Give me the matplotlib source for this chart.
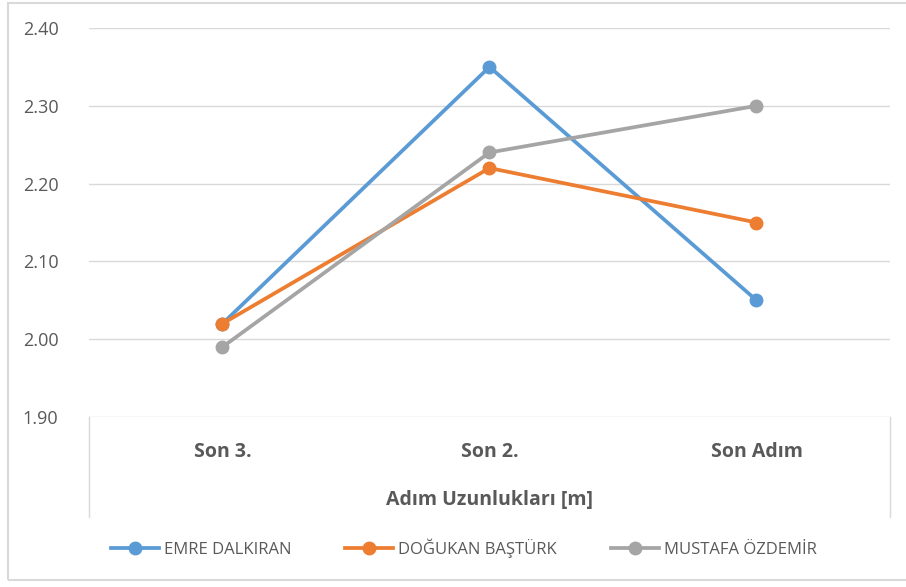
import matplotlib.pyplot as plt
from matplotlib.lines import Line2D
from matplotlib.patches import Rectangle

plt.rcParams['font.family'] = ['Open Sans', 'DejaVu Sans']

categories = ['Son 3.', 'Son 2.', 'Son Adım']
series_names = ['EMRE DALKIRAN', 'DOĞUKAN BAŞTÜRK', 'MUSTAFA ÖZDEMİR']
emre = [2.02, 2.35, 2.05]
dogukan = [2.02, 2.22, 2.15]
mustafa = [1.99, 2.24, 2.30]
yticks = [1.90, 2.00, 2.10, 2.20, 2.30, 2.40]

colors = ['#5B9BD5', '#ED7D31', '#A5A5A5']
text_gray = '#595959'
grid_gray = '#D9D9D9'

W, H = 906, 587
fig = plt.figure(figsize=(W / 100, H / 100), dpi=100)
fig.patch.set_facecolor('white')

# chart border (right side is cut off in the reference)
fig.patches.append(Rectangle((8 / W, 1 - 580 / H), 1.0, (580 - 3) / H,
                             transform=fig.transFigure, fill=False,
                             edgecolor=grid_gray, linewidth=1.5))

ax = fig.add_axes([89 / W, 1 - 417 / H, (890 - 89) / W, (417 - 28) / H])
x = range(len(categories))
for vals, name, col in zip([emre, dogukan, mustafa], series_names, colors):
  ax.plot(x, vals, color=col, linewidth=2.7, marker='o', markersize=9,
          label=name, zorder=3, solid_capstyle='round')

ax.set_xlim(-0.5, len(categories) - 0.5)
ax.set_ylim(1.90, 2.40)
ax.set_yticks(yticks)
ax.set_yticklabels([f'{v:.2f}' for v in yticks])
ax.tick_params(axis='y', length=0, pad=22, labelsize=13, labelcolor=text_gray)
ax.set_xticks([])
ax.grid(axis='y', color=grid_gray, linewidth=1)
for s in ax.spines.values():
  s.set_visible(False)

# category labels and axis title
for i, c in enumerate(categories):
  ax.annotate(c, (i, 1.90), xycoords='data', xytext=(0, -35),
              textcoords='offset pixels', ha='center', va='center',
              fontsize=14, fontweight='bold', color=text_gray)
fig.text((89 + 890) / 2 / W, 1 - 500 / H, 'Adım Uzunlukları [m]', ha='center',
         va='center', fontsize=14, fontweight='bold', color=text_gray)

# side lines of the category area
for xp in (89, 890):
  fig.add_artist(Line2D([xp / W, xp / W], [1 - 417 / H, 1 - 517 / H],
                        color=grid_gray, linewidth=1))

handles = [Line2D([], [], color=c, linewidth=2.7, marker='o', markersize=9)
           for c in colors]
fig.legend(handles, series_names, loc='center', bbox_to_anchor=(0.512, 1 - 548 / H),
           ncol=3, frameon=False, fontsize=12, labelcolor=text_gray,
           handlelength=2.9, handletextpad=0.3, columnspacing=3.2)

fig.savefig('out.png', dpi=100)
